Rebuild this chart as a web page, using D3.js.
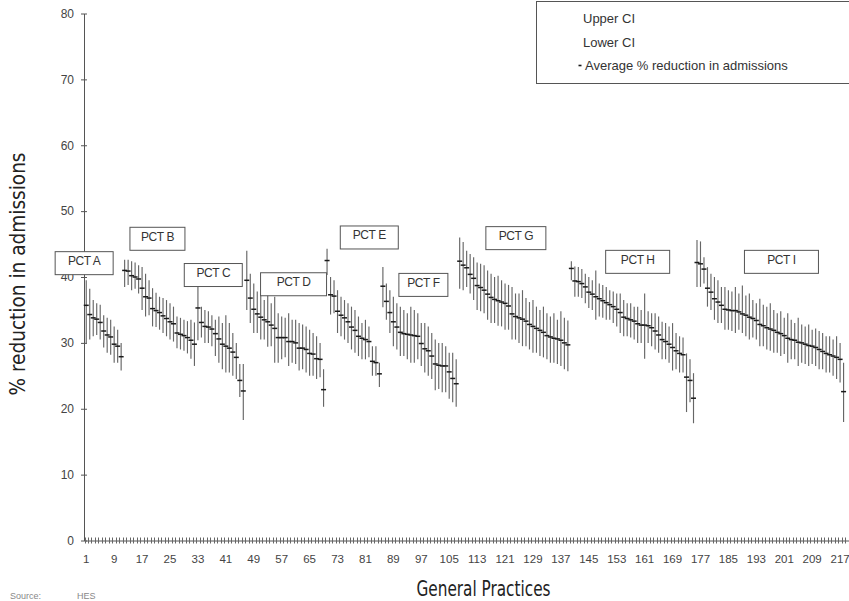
<!DOCTYPE html>
<html>
<head>
<meta charset="utf-8">
<script src="https://cdnjs.cloudflare.com/ajax/libs/d3/7.8.5/d3.min.js"></script>
<style>
  body { margin: 0; background: #fff; }
  svg { display: block; }
</style>
</head>
<body>
<svg id="chart" width="849" height="601"></svg>
<script>
// PCT groups, practices sorted by average reduction inside each group
const pctNames = ['PCT A', 'PCT B', 'PCT C', 'PCT D', 'PCT E', 'PCT F', 'PCT G', 'PCT H', 'PCT I'];

const meanA = [35.7, 34.3, 33.8, 33.6, 33.1, 31.8, 31.2, 30.9, 29.8, 29.5, 27.9];
const upA   = [39.5, 38.2, 36.5, 36.0, 35.8, 34.2, 33.8, 33.5, 32.5, 32.0, 30.0];
const loA   = [30.0, 30.5, 31.0, 31.2, 30.5, 29.3, 28.5, 28.2, 27.0, 27.0, 25.8];

const meanB = [41.0, 40.9, 40.2, 40.0, 39.7, 38.3, 37.0, 36.8, 35.2, 34.9, 34.6, 34.1, 33.7, 33.2, 32.9, 31.5, 31.3, 31.1, 30.8, 30.4, 29.8];
const upB   = [42.6, 42.6, 42.4, 42.2, 41.8, 41.5, 40.5, 39.5, 38.3, 37.6, 37.0, 36.8, 36.5, 36.0, 35.5, 34.0, 33.8, 33.5, 33.3, 33.5, 33.1];
const loB   = [38.5, 38.8, 38.0, 38.2, 37.5, 35.0, 34.0, 34.2, 32.5, 32.4, 32.0, 31.5, 31.0, 30.5, 30.2, 29.2, 29.0, 28.8, 28.4, 27.6, 26.5];

const meanC = [35.3, 33.1, 32.5, 32.4, 32.1, 31.4, 30.6, 29.8, 29.5, 29.2, 28.6, 27.8, 24.3, 22.7];
const upC   = [39.0, 35.5, 35.0, 34.8, 34.2, 33.5, 34.0, 33.0, 34.2, 33.0, 31.5, 30.0, 26.8, 26.8];
const loC   = [30.4, 30.8, 30.0, 30.0, 29.5, 28.0, 27.0, 26.0, 25.5, 25.5, 25.0, 24.5, 21.8, 18.3];

const meanD = [39.5, 36.8, 35.1, 34.4, 33.9, 33.5, 33.2, 32.7, 32.2, 30.8, 30.8, 30.8, 30.2, 30.2, 30.0, 29.2, 29.2, 29.0, 28.4, 28.3, 27.6, 27.5, 22.9];
const upD   = [44.0, 40.5, 39.0, 37.8, 37.5, 36.5, 37.5, 36.0, 37.0, 34.5, 34.0, 33.8, 34.5, 33.5, 33.5, 33.0, 32.8, 32.5, 32.0, 31.5, 31.0, 30.0, 26.0];
const loD   = [35.0, 33.0, 31.5, 31.5, 30.5, 30.5, 29.4, 29.5, 27.0, 27.0, 27.5, 27.8, 26.5, 27.0, 26.8, 25.8, 26.0, 25.5, 25.0, 25.0, 24.5, 24.8, 20.3];

const meanE = [42.5, 37.3, 37.1, 34.8, 34.2, 33.8, 33.2, 32.4, 31.9, 31.0, 30.7, 30.5, 30.2, 27.2, 27.0, 25.3];
const upE   = [44.3, 40.0, 39.5, 38.0, 37.0, 36.5, 36.0, 35.5, 35.0, 34.0, 33.0, 33.5, 32.5, 29.5, 29.5, 27.0];
const loE   = [40.3, 34.3, 34.5, 31.5, 31.0, 30.5, 30.0, 29.0, 28.5, 28.0, 27.5, 27.5, 27.8, 25.0, 25.0, 23.3];

const meanF = [38.6, 36.3, 34.6, 33.2, 32.4, 31.6, 31.4, 31.3, 31.2, 31.1, 31.0, 29.9, 29.1, 28.8, 28.0, 26.8, 26.6, 26.5, 26.5, 25.6, 24.6, 23.8];
const upF   = [41.5, 39.0, 38.0, 37.0, 36.0, 35.5, 35.0, 34.5, 35.5, 35.0, 34.5, 33.0, 33.0, 32.5, 31.5, 30.5, 30.0, 30.0, 29.5, 28.5, 28.5, 27.5];
const loF   = [35.4, 33.5, 31.5, 29.5, 29.0, 28.0, 28.0, 27.5, 27.0, 27.0, 27.5, 26.5, 25.5, 25.0, 24.5, 22.8, 23.0, 22.5, 22.5, 21.5, 21.0, 20.3];

const meanG = [42.4, 41.8, 41.4, 40.4, 39.8, 38.7, 38.4, 38.0, 37.4, 36.9, 36.6, 36.4, 36.2, 36.0, 35.6, 34.4, 34.0, 33.8, 33.6, 33.3,
               32.8, 32.5, 32.2, 31.9, 31.6, 31.1, 30.9, 30.7, 30.6, 30.4, 30.0, 29.7];
const upG   = [46.0, 45.3, 44.0, 43.5, 43.0, 42.2, 42.0, 41.8, 41.0, 40.5, 40.0, 40.2, 39.5, 39.0, 38.8, 38.5, 37.5, 37.5, 38.0, 36.8,
               36.2, 36.5, 35.5, 35.0, 35.5, 34.5, 34.0, 34.5, 33.5, 34.8, 33.8, 33.4];
const loG   = [38.2, 38.0, 38.5, 37.5, 36.5, 35.0, 34.8, 34.5, 33.5, 33.0, 33.0, 32.6, 32.5, 32.0, 32.0, 30.5, 30.5, 30.0, 29.5, 29.5,
               29.0, 28.5, 28.5, 28.0, 27.8, 27.5, 27.0, 27.0, 26.8, 26.5, 26.0, 25.7];

const meanH = [41.3, 39.4, 39.3, 39.0, 38.5, 37.7, 37.4, 37.0, 36.7, 36.4, 36.1, 35.8, 35.5, 35.1, 34.6, 33.9, 33.7, 33.5, 33.3, 32.9,
               32.7, 32.7, 32.6, 32.3, 31.8, 31.2, 30.5, 30.2, 29.8, 29.3, 28.8, 28.4, 28.2, 24.8, 24.3, 21.6];
const upH   = [42.4, 41.6, 41.5, 41.2, 40.5, 40.0, 39.5, 41.0, 39.0, 38.8, 38.5, 38.0, 37.8, 37.5, 37.5, 36.5, 36.0, 36.0, 35.5, 35.5,
               35.0, 37.5, 34.8, 34.5, 34.5, 34.0, 33.2, 33.0, 32.5, 33.0, 31.5, 31.0, 30.8, 28.4, 27.5, 25.4];
const loH   = [39.5, 37.0, 37.0, 36.8, 36.0, 35.3, 35.0, 33.5, 34.0, 33.8, 33.5, 33.5, 33.0, 32.5, 31.5, 31.0, 31.0, 30.8, 30.5, 30.0,
               30.0, 27.6, 30.0, 29.5, 29.0, 28.5, 27.5, 27.5, 27.0, 25.8, 26.0, 25.5, 25.5, 19.5, 21.0, 17.8];

const meanI = [42.2, 42.0, 41.2, 38.3, 37.7, 36.7, 36.2, 35.7, 35.1, 35.0, 34.9, 34.9, 34.7, 34.4, 34.2, 33.9, 33.7, 33.4, 32.8, 32.6,
               32.3, 32.1, 31.9, 31.6, 31.4, 31.1, 30.7, 30.5, 30.4, 30.1, 30.0, 29.8, 29.6, 29.5, 29.3, 29.0, 28.7, 28.4, 28.2, 28.0,
               27.8, 27.5, 22.6];
const upI   = [45.6, 45.4, 43.0, 41.5, 40.5, 40.0, 39.5, 38.5, 38.5, 38.0, 37.8, 38.5, 37.5, 38.7, 37.2, 37.5, 36.5, 36.0, 36.7, 35.8,
               35.5, 36.0, 35.0, 34.5, 34.8, 33.8, 34.5, 33.5, 33.0, 33.8, 32.8, 32.5, 32.8, 32.0, 32.2, 31.8, 31.5, 31.0, 31.0, 30.5,
               31.0, 30.0, 27.0];
const loI   = [38.5, 38.5, 39.0, 35.5, 35.0, 33.5, 33.0, 33.0, 32.0, 32.0, 31.8, 31.5, 32.0, 31.5, 31.0, 30.5, 30.8, 30.5, 29.5, 29.5,
               29.0, 28.8, 28.5, 28.5, 28.0, 28.3, 27.0, 27.5, 27.5, 26.5, 27.0, 26.8, 26.5, 26.8, 26.5, 26.0, 26.0, 25.5, 25.5, 25.0,
               24.5, 24.0, 18.0];

const pctMeans = [meanA, meanB, meanC, meanD, meanE, meanF, meanG, meanH, meanI];
const pctUpper = [upA, upB, upC, upD, upE, upF, upG, upH, upI];
const pctLower = [loA, loB, loC, loD, loE, loF, loG, loH, loI];

const yTicks = [0, 10, 20, 30, 40, 50, 60, 70, 80];
const xTickLabels = [1, 9, 17, 25, 33, 41, 49, 57, 65, 73, 81, 89, 97, 105, 113, 121, 129, 137,
                     145, 153, 161, 169, 177, 185, 193, 201, 209, 217];
const legendItems = ['Upper CI', 'Lower CI', 'Average % reduction in admissions'];

// where each PCT box sits: [practice position, % value, box width]
const labelSpots = [[0.4, 42.1, 58], [21.4, 45.8, 55], [37.4, 40.3, 58], [60.4, 38.9, 66], [82.1, 46.0, 58],
                    [97.6, 38.8, 49], [124.1, 45.9, 60], [159.0, 42.3, 64], [200.2, 42.3, 74]];

var practices = [];
var n = 0;
pctNames.forEach((name, g) => {
  pctMeans[g].forEach((m, i) => {
    n++;
    practices.push({id: n, pct: name, mean: m, upper: pctUpper[g][i], lower: pctLower[g][i]});
  });
});

const svg = d3.select('#chart');
const font = '"Liberation Sans", Arial, sans-serif';
const narrow = '"Liberation Sans Narrow", "DejaVu Sans Condensed", sans-serif';

const slots = 221,
      step = 3.49,
      left = 84.5;

const x = d3.scaleBand()
            .domain(d3.range(1, slots + 1))
            .range([left, left + slots * step])
            .padding(0);

const xc = d3.scaleLinear()
             .domain([0.5, slots + 0.5])
             .range([left, left + slots * step]);

const y = d3.scaleLinear()
            .domain([0, 80])
            .range([540.5, 13.5]);

const bw = x.bandwidth();

// y axis
const yAxis = svg.append('g')
                 .attr('transform', 'translate(84,0)')
                 .call(d3.axisLeft(y).tickValues(yTicks).tickSize(3).tickSizeOuter(0).tickPadding(7));
yAxis.select('.domain').attr('stroke', '#555');
yAxis.selectAll('.tick line').attr('x1', 3).attr('stroke', '#555');
yAxis.selectAll('.tick text')
     .attr('font-family', font)
     .attr('font-size', 12)
     .attr('fill', '#444');

// x axis
const xAxis = svg.append('g')
                 .attr('transform', 'translate(0,' + y(0) + ')')
                 .call(d3.axisBottom(x).tickValues(xTickLabels).tickSize(0).tickSizeOuter(0).tickPadding(14));
xAxis.select('.domain').attr('stroke', '#555');
xAxis.selectAll('.tick text')
     .attr('font-family', font)
     .attr('font-size', 11.5)
     .attr('fill', '#444');

xAxis.selectAll('line.slot')
     .data(x.domain())
     .enter()
     .append('line')
     .attr('class', 'slot')
     .attr('x1', d => Math.round(x(d)) + 0.5)
     .attr('x2', d => Math.round(x(d)) + 0.5)
     .attr('y1', -3)
     .attr('y2', 3)
     .attr('stroke', '#666')
     .attr('stroke-width', 1);

// high-low lines
svg.append('g')
   .selectAll('line')
   .data(practices)
   .enter()
   .append('line')
   .attr('x1', d => x(d.id) + bw / 2)
   .attr('x2', d => x(d.id) + bw / 2)
   .attr('y1', d => y(d.upper))
   .attr('y2', d => y(d.lower))
   .attr('stroke', '#666')
   .attr('stroke-width', 1.15);

// average markers
svg.append('g')
   .selectAll('line')
   .data(practices)
   .enter()
   .append('line')
   .attr('x1', d => x(d.id) + bw / 2 - 2.5)
   .attr('x2', d => x(d.id) + bw / 2 + 2.5)
   .attr('y1', d => y(d.mean))
   .attr('y2', d => y(d.mean))
   .attr('stroke', '#1a1a1a')
   .attr('stroke-width', 1.5);

// PCT boxes
const boxes = svg.append('g')
                 .selectAll('g')
                 .data(labelSpots)
                 .enter()
                 .append('g')
                 .attr('transform', d => 'translate(' + xc(d[0]) + ',' + y(d[1]) + ')');

boxes.append('rect')
     .attr('x', d => -d[2] / 2)
     .attr('y', -11.5)
     .attr('width', d => d[2])
     .attr('height', 23)
     .attr('fill', '#fff')
     .attr('stroke', '#555')
     .attr('stroke-width', 1);

boxes.append('text')
     .attr('text-anchor', 'middle')
     .attr('y', 2)
     .attr('font-family', font)
     .attr('font-size', 12)
     .attr('letter-spacing', -0.4)
     .attr('fill', '#333')
     .text((d, i) => pctNames[i]);

// legend
const legend = svg.append('g');
legend.append('rect')
      .attr('x', 536.5)
      .attr('y', 1.5)
      .attr('width', 330)
      .attr('height', 82)
      .attr('fill', '#fff')
      .attr('stroke', '#555');

legend.selectAll('text')
      .data(legendItems)
      .enter()
      .append('text')
      .attr('x', (d, i) => i == 2 ? 585 : 583)
      .attr('y', (d, i) => 23 + i * 23.5)
      .attr('font-family', font)
      .attr('font-size', 13)
      .attr('fill', '#333')
      .text(d => d);

legend.append('line')
      .attr('x1', 578.5)
      .attr('x2', 581.5)
      .attr('y1', 65.5)
      .attr('y2', 65.5)
      .attr('stroke', '#1a1a1a')
      .attr('stroke-width', 1.6);

// axis titles
svg.append('text')
   .attr('transform', 'translate(25,274) rotate(-90)')
   .attr('text-anchor', 'middle')
   .attr('font-family', narrow)
   .attr('font-size', 21)
   .attr('textLength', 243)
   .attr('lengthAdjust', 'spacingAndGlyphs')
   .attr('fill', '#222')
   .text('% reduction in admissions');

svg.append('text')
   .attr('x', 483.5)
   .attr('y', 596)
   .attr('text-anchor', 'middle')
   .attr('font-family', narrow)
   .attr('font-size', 21)
   .attr('textLength', 134)
   .attr('lengthAdjust', 'spacingAndGlyphs')
   .attr('fill', '#222')
   .text('General Practices');

svg.append('text')
   .attr('x', 10)
   .attr('y', 599)
   .attr('font-family', font)
   .attr('font-size', 9)
   .attr('fill', '#888')
   .text('Source:');

svg.append('text')
   .attr('x', 77)
   .attr('y', 599)
   .attr('font-family', font)
   .attr('font-size', 9)
   .attr('fill', '#888')
   .text('HES');
</script>
</body>
</html>
